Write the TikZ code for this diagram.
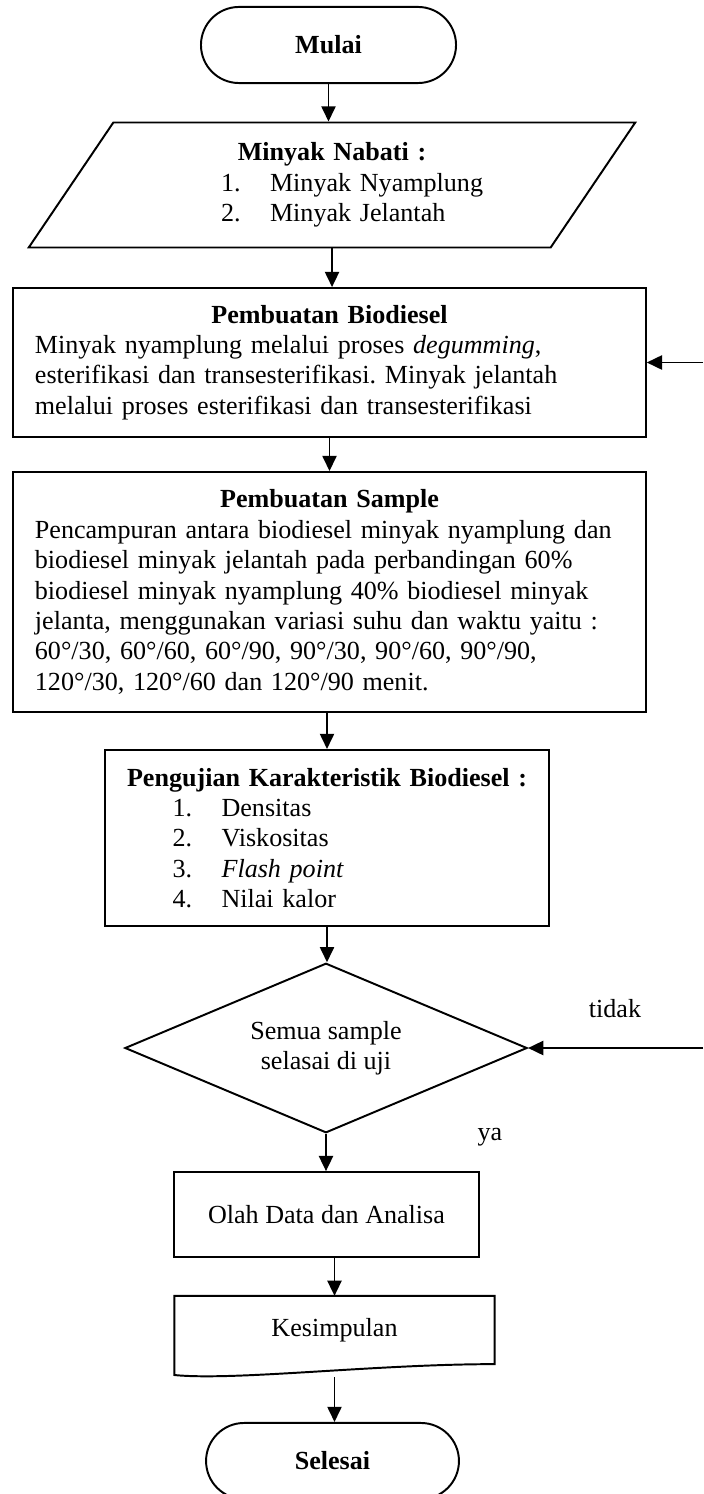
\documentclass[tikz,border=0pt]{standalone}
\usepackage{fontspec}
\setmainfont{Liberation Serif}
\frenchspacing
\usetikzlibrary{arrows.meta,shapes.geometric,shapes.misc}
\newcommand{\fcitem}[2]{\hspace*{24pt}\makebox[22.5pt][l]{#1}#2}
\tikzset{
    line/.style={draw=black, line width=0.9pt},
    flow/.style={line, -{Triangle[length=7pt,width=6.5pt]}},
    terminal/.style={line, rounded rectangle, minimum width=124pt, minimum height=35pt,
        font=\fontsize{12pt}{14pt}\selectfont\bfseries},
    proses/.style={line, rectangle, inner xsep=10pt, inner ysep=0pt, align=left}
}
\begin{document}
\begin{tikzpicture}[x=0.46pt, y=-0.46pt, font=\fontsize{12pt}{14pt}\selectfont]
    \useasboundingbox (0,0) rectangle (703,1494);
    \node[terminal] (mulai) at (328.5,45) {Mulai};
    \node[line, trapezium, trapezium left angle=45, trapezium right angle=135, trapezium stretches body,
          minimum width=279pt, minimum height=57.5pt, inner sep=0pt, text width=150pt, align=left] (minyak) at (332,185)
        {{\centering\textbf{Minyak Nabati :}\par}\fcitem{1.}{Minyak Nyamplung}\\\fcitem{2.}{Minyak Jelantah}};
    \node[proses, text width=271pt, minimum height=68.5pt] (bio) at (329.5,362.5)
        {{\centering\textbf{Pembuatan Biodiesel}\par}
         Minyak nyamplung melalui proses \textit{degumming},\\
         esterifikasi dan transesterifikasi. Minyak jelantah\\
         melalui proses esterifikasi dan transesterifikasi};
    \node[proses, text width=271pt, minimum height=110.4pt] (sample) at (329.5,592)
        {{\centering\textbf{Pembuatan Sample}\par}
         Pencampuran antara biodiesel minyak nyamplung dan\\
         biodiesel minyak jelantah pada perbandingan 60\%\\
         biodiesel minyak nyamplung 40\% biodiesel minyak\\
         jelanta, menggunakan variasi suhu dan waktu yaitu :\\
         60°/30, 60°/60, 60°/90, 90°/30, 90°/60, 90°/90,\\
         120°/30, 120°/60 dan 120°/90 menit.};
    \node[proses, inner xsep=7pt, text width=190pt, minimum height=81pt] (uji) at (327,838)
        {{\centering\textbf{Pengujian Karakteristik Biodiesel :}\par}
         \fcitem{1.}{Densitas}\\\fcitem{2.}{Viskositas}\\\fcitem{3.}{\textit{Flash point}}\\\fcitem{4.}{Nilai kalor}};
    \node[line, diamond, aspect=2.37, inner sep=0pt, minimum width=185pt, minimum height=78pt, align=center] (cek) at (326,1048)
        {Semua sample\\selasai di uji};
    \node[line, rectangle, minimum width=140pt, minimum height=39pt] (olah) at (326.5,1214.5) {Olah Data dan Analisa};
    \node[rectangle, minimum width=147pt, minimum height=31pt] (kes) at (334.5,1330) {Kesimpulan};
    \draw[line] (kes.north west) -- (kes.north east) -- (kes.south east)
        .. controls +(-120,0) and +(60,6) .. ([yshift=-5pt]kes.south west) -- cycle;
    \node[terminal, minimum width=123pt] (selesai) at (332.5,1461) {Selesai};
    \node (tidak) at (615,1009) {tidak};
    \node (ya) at (490,1137) {ya};
    \coordinate (kanan1) at (703,362.5);
    \coordinate (kanan2) at (703,1048);
    \draw[flow] (mulai.south) -- (mulai.south |- minyak.north);
    \draw[flow] (minyak.south) -- (minyak.south |- bio.north);
    \draw[flow] (bio) -- (sample);
    \draw[flow] (uji.north |- sample.south) -- (uji.north);
    \draw[flow] (uji.south) -- (uji.south |- cek.north);
    \draw[flow] (cek.south) -- (cek.south |- olah.north);
    \draw[flow] (kes.north |- olah.south) -- (kes.north);
    \draw[flow] ([yshift=-6pt]kes.south) -- (kes.south |- selesai.north);
    \draw[flow] (kanan1) -- (bio.east);
    \draw[flow] (kanan2) -- (cek.east);
\end{tikzpicture}
\end{document}
